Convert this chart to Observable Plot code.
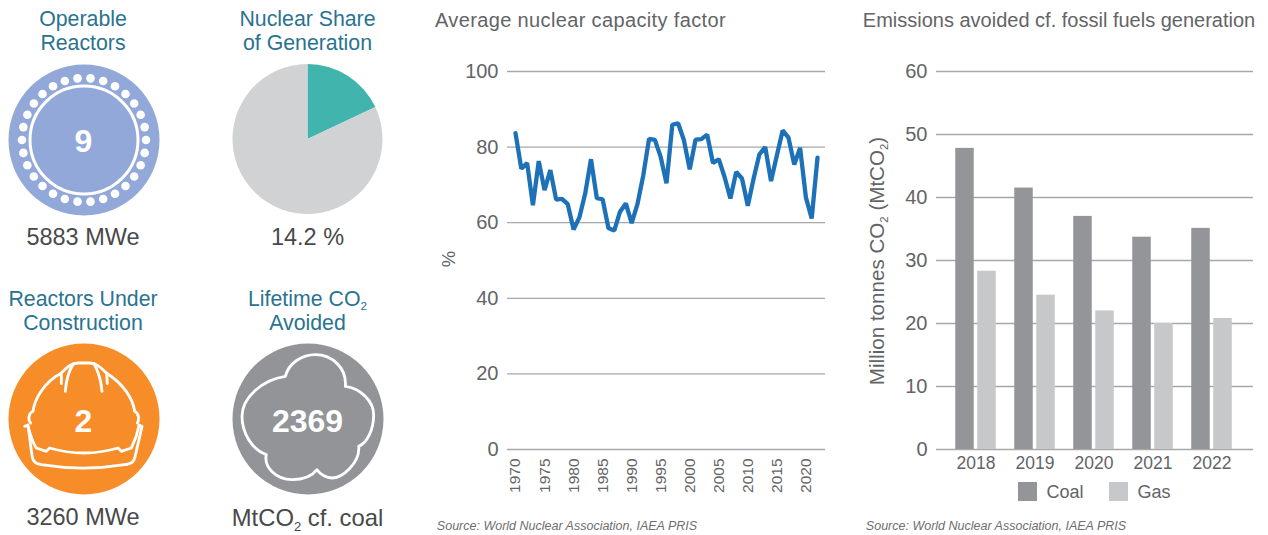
<!DOCTYPE html>
<html><head><meta charset="utf-8">
<script src="https://cdn.jsdelivr.net/npm/d3@7"></script>
<script src="https://cdn.jsdelivr.net/npm/@observablehq/plot@0.6"></script>
<style>
html,body{margin:0;padding:0;background:#fff}
#root{position:relative;width:1268px;height:535px;overflow:hidden;font-family:"Liberation Sans",Arial,sans-serif}
#root svg{position:absolute;top:0;background:transparent}
.t{position:absolute;white-space:nowrap;line-height:1}
.c{transform:translate(-50%,-50%)}
sub{font-size:.55em;line-height:0;vertical-align:-.35em}
</style></head><body><div id="root"></div>
<script>
// ---- data ----
const capacityYears = d3.range(1970, 2023);
const capacityFactor = [83.7,74.3,75.8,64.6,76.3,68.6,73.9,66.1,66.3,64.9,58.2,61.4,67.7,76.8,66.5,66.2,58.6,57.9,62.9,65.1,59.9,64.9,72.5,82.2,81.9,77.4,70.4,85.9,86.3,81.8,74.1,82,82.1,83.3,75.8,76.8,72.1,66.4,73.4,71.7,64.5,71.7,78.1,80,71,77.8,84.4,82.5,75.4,79.8,66.7,61.1,77.2];
const barYears = ["2018","2019","2020","2021","2022"];
const coalAvoided = [47.8,41.5,37,33.7,35.1];
const gasAvoided = [28.3,24.5,22,20,20.8];
const pieShares = [18,82];
const pieColors = ["#41b5ad","#d1d2d4"];
const reactorRingCount = d3.range(30);

const root = document.getElementById("root");
const tickInk = "#636466", gridInk = "#a7a8aa", titleInk = "#2a7391", bodyInk = "#48494b";
const tickFont = '"Liberation Sans",Arial,sans-serif';

function label(html, x, y, size, color, extra = "") {
  const d = document.createElement("div");
  d.className = "t c";
  d.style.cssText = `left:${x}px;top:${y}px;font-size:${size}px;color:${color};${extra}`;
  d.innerHTML = html;
  root.appendChild(d);
}
function place(svg, left) { svg.style.left = left + "px"; root.appendChild(svg); }

// ---- icons ----
const centers = [
  {x:83.5,y:139.5,fill:"#91a8d8"},
  {x:83.5,y:418.5,fill:"#f78d28"},
  {x:307.5,y:418.5,fill:"#929497"}
];
const ringX = reactorRingCount.map(i => 83.5 + 62*Math.cos(i*2*Math.PI/30));
const ringY = reactorRingCount.map(i => 139.5 + 62*Math.sin(i*2*Math.PI/30));
const helmet = [
 "M68 240C60 232 60 212 75 205C80 170 105 120 160 90C178 72 190 60 210 60L245 60C265 60 280 75 295 90C350 125 375 170 380 205C394 212 394 232 388 240",
 "M172 145C174 120 178 90 195 65","M282 145C280 120 274 92 258 62","M160 92L160 122","M296 92L298 122",
 "M50 250L60 246L72 338C75 358 85 362 100 365C180 378 270 378 350 365C370 362 378 358 382 338L402 250L393 246",
 "M60 250C68 280 75 300 85 315L115 325L125 315C190 334 265 334 330 315L340 325L370 315C380 295 388 275 393 248"
];
const cloud = "M160 100C170 60 210 35 250 35C300 35 345 75 340 130C385 135 425 175 425 215C425 260 405 300 380 310C385 360 330 405 300 405C285 405 265 395 255 380C240 400 210 410 180 410C130 410 95 370 103 335C60 320 30 270 30 220C30 165 90 110 160 100Z";

function pieMark() {
  const g = d3.create("svg:g").attr("transform","translate(307.5,139)");
  const arc = d3.arc().innerRadius(0).outerRadius(75);
  g.selectAll("path").data(d3.pie().sort(null)(pieShares)).join("path")
    .attr("d",arc).attr("fill",(d,i)=>pieColors[i]);
  return g.node();
}
function glyph(paths, ox, oy) {
  return () => {
    const g = d3.create("svg:g").attr("transform",`translate(${ox},${oy}) scale(${1/3})`)
      .attr("fill","none").attr("stroke","#fff").attr("stroke-width",8.5).attr("stroke-linejoin","round").attr("stroke-linecap","round");
    g.selectAll("path").data(paths).join("path").attr("d",d=>d);
    return g.node();
  };
}
place(Plot.plot({
  width:420,height:535,margin:0,
  x:{type:"identity",axis:null},y:{type:"identity",axis:null},r:{type:"identity"},
  marks:[
    Plot.axisX({ticks:[],label:null}),
    Plot.axisY({ticks:[],label:null}),
    Plot.dot(centers,{x:"x",y:"y",r:75.5,fill:"fill"}),
    pieMark,
    Plot.dot(ringX,{x:d=>d,y:(d,i)=>ringY[i],r:4.3,fill:"#fff"}),
    Plot.dot([83.5],{x:d=>d,y:()=>139.5,r:54,fill:"none",stroke:"#fff",strokeWidth:3}),
    glyph(helmet,8,343),
    glyph([cloud],232,343),
  ]
}),0);

const titleSize = 21.3;
[["Operable",83,20],["Reactors",83,44],["Nuclear Share",307.5,20],["of Generation",307.5,44],["Reactors Under",83,300],["Construction",83,324],["Avoided",307.5,324]]
  .forEach(([s,x,y])=>label(s,x,y,titleSize,titleInk));
label('Lifetime CO<sub>2</sub>',307.5,300,titleSize,titleInk);
[["5883 MWe",83,238],["14.2 %",307.5,238],["3260 MWe",83,518]].forEach(([s,x,y])=>label(s,x,y,23.5,bodyInk));
label('MtCO<sub>2</sub> cf. coal',307.5,518,23.8,bodyInk);
[["9",83.5,141],["2",83.5,421],["2369",307.5,421]].forEach(([s,x,y])=>label(s,x,y,32,"#fff","font-weight:700"));

// ---- line chart ----
place(Plot.plot({
  width:410,height:535,marginTop:71,marginBottom:86,marginLeft:77,marginRight:15,
  style:{background:"transparent",fontFamily:tickFont},
  x:{domain:[1970,2022],range:[85,387]},
  y:{domain:[0,100],ticks:[0,20,40,60,80,100]},
  marks:[
    Plot.ruleY([0,20,40,60,80,100],{stroke:gridInk,strokeWidth:1.3}),
    Plot.axisY({ticks:[0,20,40,60,80,100],tickSize:0,tickPadding:9,label:null,fontSize:20,color:tickInk,marginLeft:77}),
    Plot.axisX({ticks:d3.range(1970,2021,5),tickFormat:d=>String(d),tickSize:0,tickRotate:-90,tickPadding:9,label:null,fontSize:15.5,color:tickInk}),
    Plot.line(capacityYears.map((y,i)=>({y,v:capacityFactor[i]})),{x:"y",y:"v",stroke:"#1c71b8",strokeWidth:4.3,strokeLinejoin:"miter"})
  ]
}),430);

// ---- bar chart ----
const barRows = barYears.map((y,i)=>({y,coal:coalAvoided[i],gas:gasAvoided[i]}));
place(Plot.plot({
  width:418,height:535,marginTop:71,marginBottom:86,marginLeft:86,marginRight:15,
  style:{background:"transparent",fontFamily:tickFont},
  x:{type:"band",domain:barYears,range:[94.75,392.25],padding:0},
  y:{domain:[0,60]},
  marks:[
    Plot.ruleY([0,10,20,30,40,50,60],{stroke:gridInk,strokeWidth:1.3}),
    Plot.barY(barRows,{x:"y",y:"coal",fill:"#939598",insetLeft:9.25,insetRight:31.25}),
    Plot.barY(barRows,{x:"y",y:"gas",fill:"#c7c8ca",insetLeft:31.25,insetRight:9.25}),
    Plot.axisY({ticks:[0,10,20,30,40,50,60],tickSize:0,tickPadding:9,label:null,fontSize:20,color:tickInk}),
    Plot.axisX({tickSize:0,tickPadding:7,label:null,fontSize:17.5,color:tickInk})
  ]
}),850);

// ---- chart text ----
label("Average nuclear capacity factor",580.5,20,20,tickInk,"letter-spacing:.36px");
label("Emissions avoided cf. fossil fuels generation",1059,20,20,tickInk);
label("%",449,259,18.5,tickInk,"transform:translate(-50%,-50%) rotate(-90deg)");
label('Million tonnes CO<sub>2</sub> (MtCO<sub>2</sub>)',877,261,20.6,tickInk,"transform:translate(-50%,-50%) rotate(-90deg)");
label("Source: World Nuclear Association, IAEA PRIS",567,526,12.5,"#6d6e70","font-style:italic");
label("Source: World Nuclear Association, IAEA PRIS",996,526,12.5,"#6d6e70","font-style:italic");
[[1018,"#939598"],[1109,"#c7c8ca"]].forEach(([x,c])=>{
  const s=document.createElement("div");
  s.style.cssText=`position:absolute;left:${x}px;top:482px;width:19px;height:19px;background:${c}`;
  root.appendChild(s);
});
label("Coal",1065,492,18,tickInk);
label("Gas",1154,492,18,tickInk);
</script></body></html>
